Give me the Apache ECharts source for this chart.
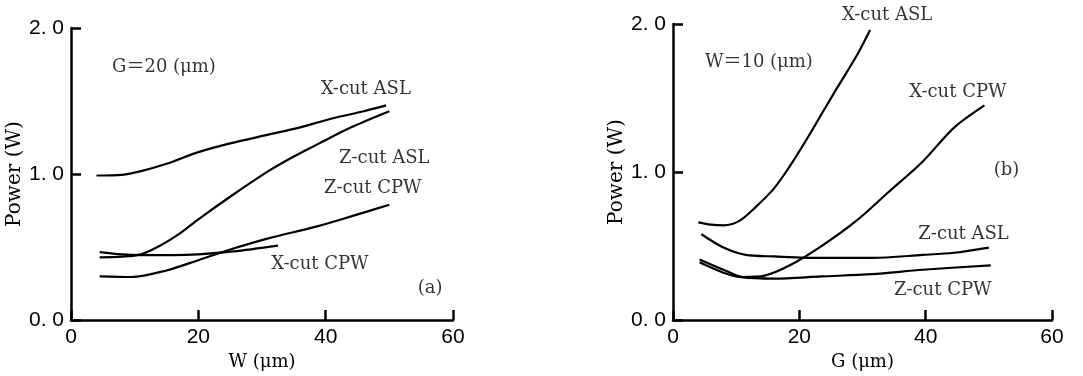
<!DOCTYPE html>
<html>
<head>
<meta charset="utf-8">
<script src="https://cdn.jsdelivr.net/npm/echarts@6/dist/echarts.min.js"></script>
<style>
  html, body { margin: 0; padding: 0; background: #fff; }
  #chart { width: 1083px; height: 376px; }
</style>
</head>
<body>
<div id="chart"></div>
<script>
// panel (a): G = 20 um, power vs strip width W
const xcutAslA = [[4, 0.99], [8, 0.995], [11, 1.02], [15, 1.07], [20, 1.15], [25, 1.21], [31, 1.27], [36, 1.32], [41, 1.38], [46, 1.43], [49.5, 1.47]];
const zcutAslA = [[4.5, 0.43], [8, 0.435], [11, 0.45], [14, 0.51], [17, 0.59], [20, 0.69], [25.5, 0.86], [31, 1.02], [35, 1.12], [39, 1.21], [44, 1.32], [50, 1.43]];
const zcutCpwA = [[4.5, 0.30], [9.5, 0.295], [15, 0.34], [20, 0.41], [25.5, 0.49], [31, 0.56], [38.5, 0.64], [44, 0.71], [50, 0.79]];
const xcutCpwA = [[4.5, 0.465], [8, 0.45], [11, 0.445], [16, 0.445], [20, 0.45], [25.5, 0.47], [32.5, 0.51]];

// panel (b): W = 10 um, power vs gap G
const xcutAslB = [[4, 0.66], [6, 0.645], [8, 0.64], [10.5, 0.67], [13, 0.76], [16, 0.89], [18.5, 1.04], [21, 1.21], [23.5, 1.39], [26, 1.57], [29, 1.78], [31.2, 1.96]];
const xcutCpwB = [[4.2, 0.39], [8, 0.32], [11, 0.29], [14.5, 0.30], [18.5, 0.37], [23.5, 0.50], [29, 0.67], [34, 0.86], [39.5, 1.07], [44.5, 1.30], [49.3, 1.45]];
const zcutAslB = [[4.5, 0.58], [8, 0.49], [11.5, 0.44], [16, 0.43], [23.5, 0.42], [31.5, 0.42], [39.5, 0.44], [44.5, 0.455], [50, 0.49]];
const zcutCpwB = [[4.2, 0.41], [8, 0.34], [11, 0.29], [16, 0.28], [23.5, 0.295], [31.5, 0.31], [39.5, 0.34], [50.3, 0.37]];

const xTicks = { min: 0, max: 60, interval: 20 };
const yTicks = { min: 0, max: 2, interval: 1 };

// text notes placed in data coordinates
const notesA = [
  { name: "X-cut ASL", value: [46.3, 1.58] },
  { name: "Z-cut ASL", value: [49.2, 1.11] },
  { name: "Z-cut CPW", value: [47.4, 0.90] },
  { name: "X-cut CPW", value: [39.1, 0.38] },
  { name: "(a)", value: [56.4, 0.22] },
  { name: "G\uFF1D20 (\u03BCm)", value: [14.6, 1.73] },
];
const notesB = [
  { name: "X-cut ASL", value: [33.9, 2.06] },
  { name: "X-cut CPW", value: [45.1, 1.54] },
  { name: "(b)", value: [52.8, 1.01] },
  { name: "Z-cut ASL", value: [46.0, 0.58] },
  { name: "Z-cut CPW", value: [42.7, 0.20] },
  { name: "W\uFF1D10 (\u03BCm)", value: [13.6, 1.74] },
];

const serif = "DejaVu Serif, 'Liberation Serif', 'Noto Sans CJK SC', serif";
const digits = "'Liberation Sans', Arial, sans-serif";

const chart = echarts.init(document.getElementById("chart"));

function xAxis(idx, name) {
  return {
    type: "value",
    gridIndex: idx,
    ...xTicks,
    name: name,
    nameLocation: "middle",
    nameGap: 29,
    nameTextStyle: { fontFamily: serif, fontSize: 18, color: "#000" },
    axisLine: { show: true, lineStyle: { color: "#000", width: 2.5 } },
    axisTick: { show: true, inside: true, length: 10, lineStyle: { color: "#000", width: 2.5 } },
    axisLabel: { color: "#000", fontFamily: digits, fontSize: 21, margin: 7 },
    splitLine: { show: false },
  };
}

function yAxis(idx) {
  return {
    type: "value",
    gridIndex: idx,
    ...yTicks,
    name: "Power (W)",
    nameLocation: "middle",
    nameGap: 44,
    nameRotate: 90,
    nameTextStyle: { fontFamily: serif, fontSize: 20, color: "#000" },
    axisLine: { show: true, lineStyle: { color: "#000", width: 2.5 } },
    axisTick: { show: true, inside: true, length: 10, lineStyle: { color: "#000", width: 2.5 } },
    axisLabel: {
      color: "#000",
      fontFamily: digits,
      fontSize: 21,
      margin: 7,
      formatter: (v) => v.toFixed(1).replace(".", ". "),
    },
    splitLine: { show: false },
  };
}

function curve(idx, data) {
  return {
    type: "line",
    xAxisIndex: idx,
    yAxisIndex: idx,
    data: data,
    smooth: 0.3,
    showSymbol: false,
    lineStyle: { color: "#000", width: 2.2 },
  };
}

function notes(idx, data) {
  return {
    type: "scatter",
    xAxisIndex: idx,
    yAxisIndex: idx,
    data: data,
    symbolSize: 0,
    clip: false,
    label: {
      show: true,
      position: "inside",
      formatter: (p) => p.name,
      color: "#000",
      fontFamily: serif,
      fontSize: 18,
    },
  };
}

const option = {
  animation: false,
  backgroundColor: "#fff",
  grid: [
    { left: 71, top: 28, width: 382, height: 297 },
    { left: 673, top: 24, width: 379, height: 298 },
  ],
  xAxis: [xAxis(0, "W (\u03BCm)"), xAxis(1, "G (\u03BCm)")],
  yAxis: [yAxis(0), yAxis(1)],
  series: [
    curve(0, xcutAslA),
    curve(0, zcutAslA),
    curve(0, zcutCpwA),
    curve(0, xcutCpwA),
    curve(1, xcutAslB),
    curve(1, xcutCpwB),
    curve(1, zcutAslB),
    curve(1, zcutCpwB),
    notes(0, notesA),
    notes(1, notesB),
  ],
};
chart.setOption(option);
</script>
</body>
</html>
